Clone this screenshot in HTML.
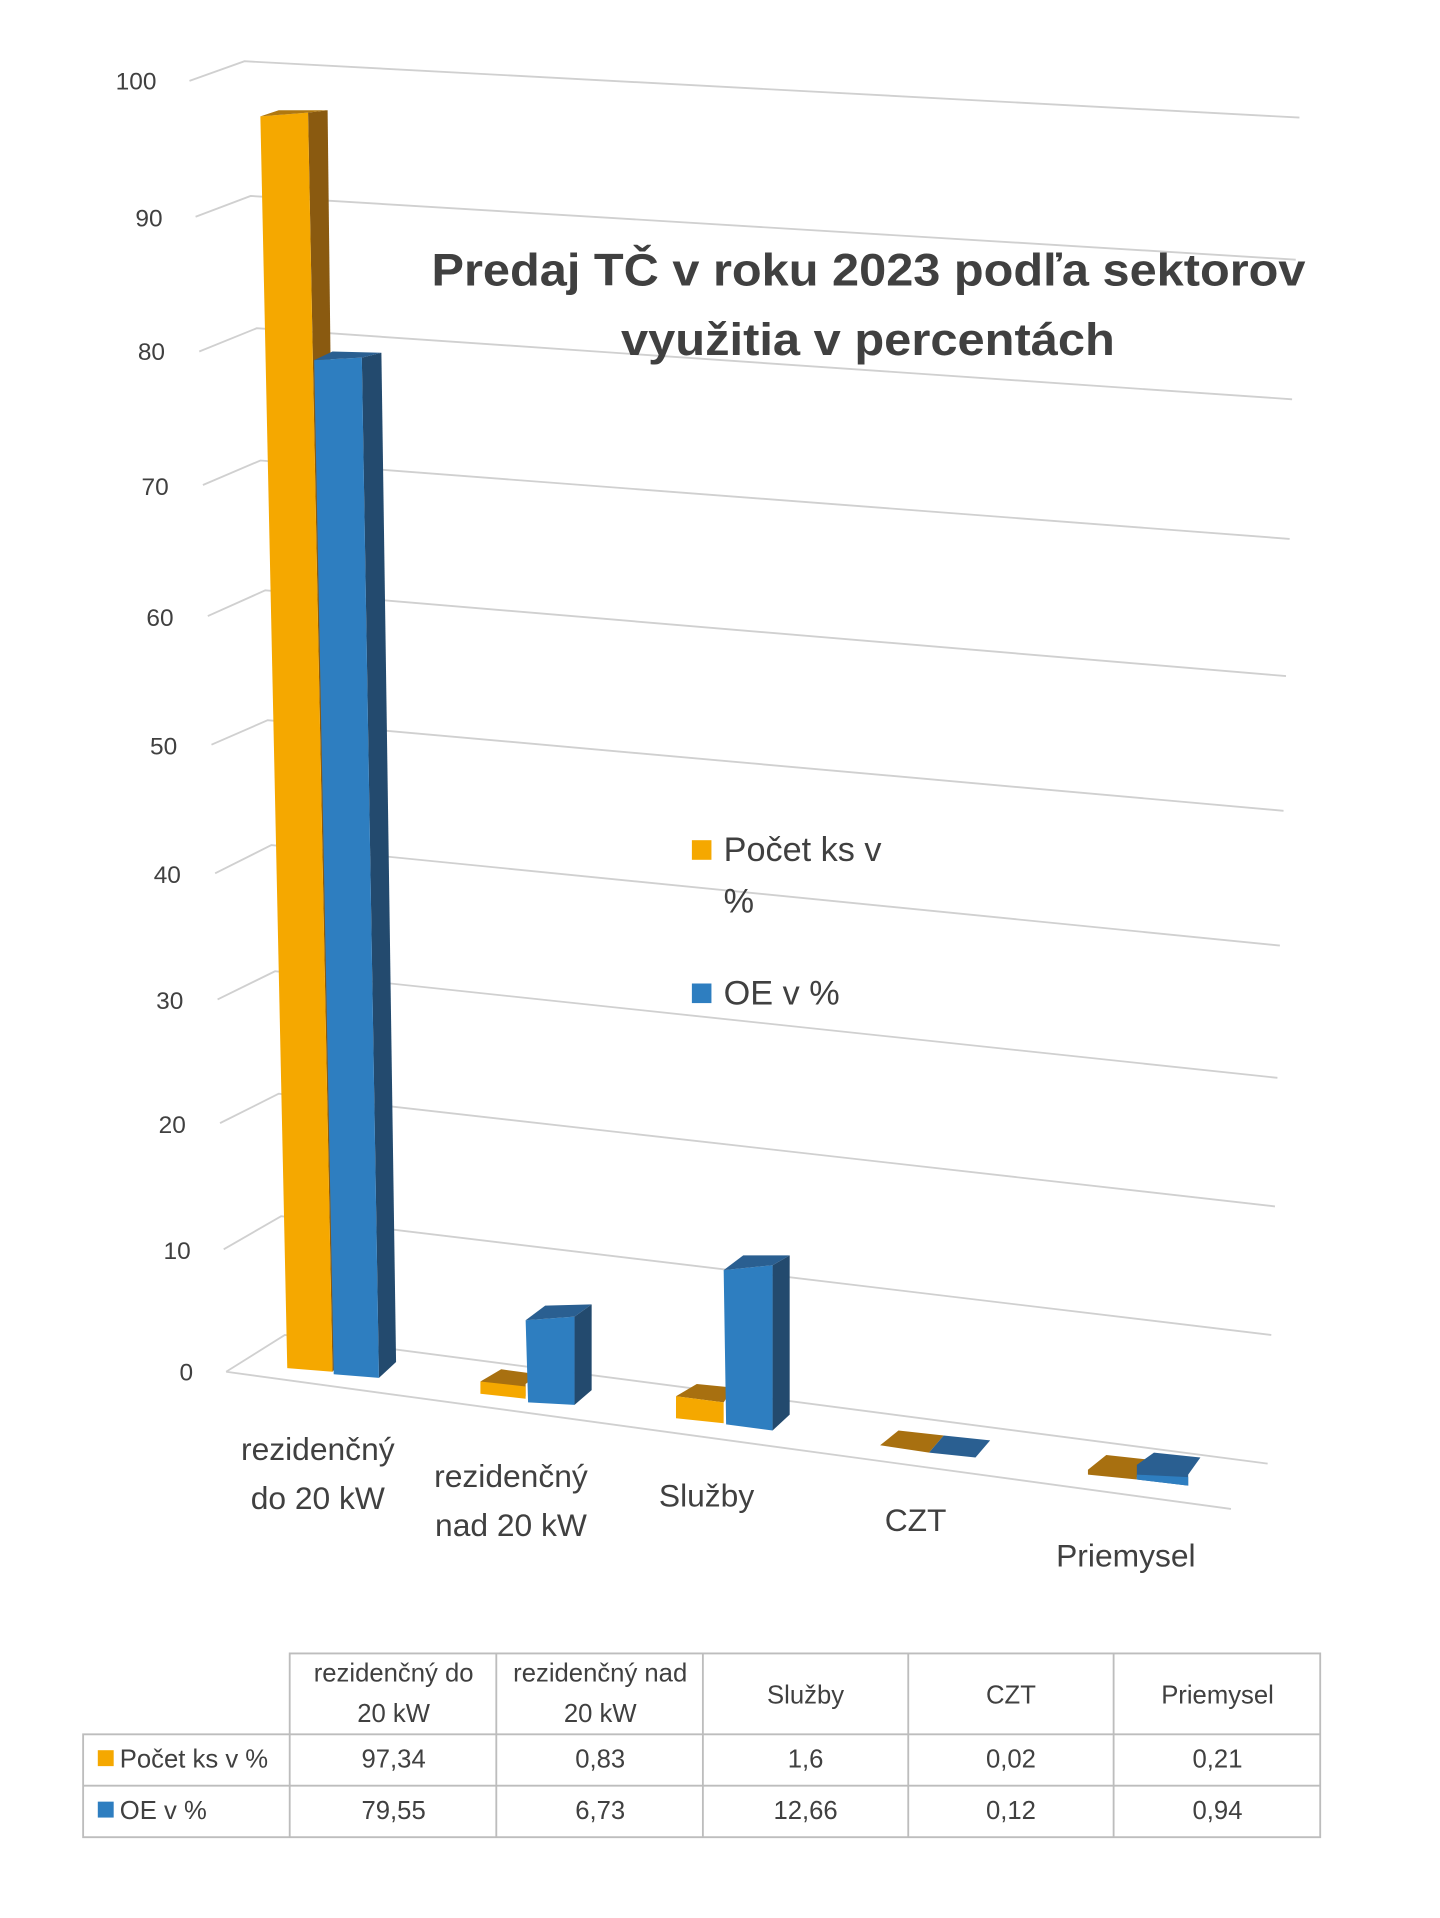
<!DOCTYPE html>
<html><head><meta charset="utf-8"><style>
html,body{margin:0;padding:0;background:#fff}
svg{display:block}
text{font-family:"Liberation Sans","DejaVu Sans",sans-serif;fill:#404040}
</style></head><body>
<svg width="1440" height="1918" viewBox="0 0 1178 1566" preserveAspectRatio="none">
<g stroke="#d0d0d0" stroke-width="1.5" fill="none">
<polyline points="155,66 200,50 1063,96"/>
<polyline points="160,177 205,160 1060,212"/>
<polyline points="163,287 210,268 1057,326"/>
<polyline points="166,396 213,376 1055,440"/>
<polyline points="170,503 217,482 1052,552"/>
<polyline points="173,608 219,588 1050,662"/>
<polyline points="176,713 222,690 1047,772"/>
<polyline points="178,816 225,793 1045,880"/>
<polyline points="180,917 228,893 1043,985"/>
<polyline points="183,1020 230,993 1040,1090"/>
<polyline points="185,1120 233,1090 1037,1195"/>
<line x1="185" y1="1120" x2="1007" y2="1232"/>
</g>
<g font-size="20" text-anchor="end">
<text x="128" y="73">100</text><text x="133" y="185">90</text><text x="135" y="294">80</text>
<text x="138" y="404">70</text><text x="142" y="511">60</text><text x="145" y="616">50</text>
<text x="148" y="721">40</text><text x="150" y="824">30</text><text x="152" y="925">20</text>
<text x="156" y="1028">10</text><text x="158" y="1127">0</text>
</g>
<!-- bar 1 -->
<polygon points="252,92 268,90 280,1110 272,1120" fill="#8a5a10"/>
<polygon points="213,95 252,92 272,1120 235,1117" fill="#f5a800"/>
<polygon points="213,95 228,90 268,90 252,92" fill="#b07810"/>
<polygon points="296,292 312,288 324,1112 310,1125" fill="#234a6e"/>
<polygon points="257,294 296,292 310,1125 273,1122" fill="#2e7ec0"/>
<polygon points="257,294 272,287 312,288 296,292" fill="#2a5f91"/>
<!-- bar 2 -->
<polygon points="393,1128 410,1118 440,1122 430,1130 430,1140" fill="#a87010"/>
<polygon points="393,1128 430,1132 430,1142 393,1138" fill="#f5a800"/>
<polygon points="470,1075 484,1065 484,1135 470,1147" fill="#234a6e"/>
<polygon points="430,1078 470,1075 470,1147 432,1145" fill="#2e7ec0"/>
<polygon points="430,1078 446,1066 484,1065 470,1075" fill="#2a5f91"/>
<!-- bar 3 -->
<polygon points="553,1140 570,1130 600,1133 592,1145" fill="#a87010"/>
<polygon points="553,1140 592,1145 592,1162 553,1158" fill="#f5a800"/>
<polygon points="632,1033 646,1025 646,1155 632,1168" fill="#234a6e"/>
<polygon points="592,1037 632,1033 632,1168 594,1163" fill="#2e7ec0"/>
<polygon points="592,1037 608,1025 646,1025 632,1033" fill="#2a5f91"/>
<!-- CZT -->
<polygon points="720,1180 735,1168 772,1172 760,1186" fill="#a87010"/>
<polygon points="760,1186 772,1172 810,1176 798,1190" fill="#2a5f91"/>
<!-- Priemysel -->
<polygon points="890,1200 905,1188 942,1192 930,1206 930,1208 890,1204" fill="#a87010"/>
<polygon points="930,1196 944,1186 982,1190 972,1204 972,1213 930,1208" fill="#2a5f91"/>
<polygon points="930,1204 972,1206 972,1213 930,1208" fill="#2e7ec0"/>
<!-- title -->
<g font-size="37" font-weight="bold" fill="#404040">
<text x="353" y="233" textLength="715" lengthAdjust="spacingAndGlyphs">Predaj  TČ v roku 2023 podľa  sektorov</text>
<text x="508" y="290" textLength="404" lengthAdjust="spacingAndGlyphs">využitia  v percentách</text>
</g>
<!-- legend -->
<rect x="566" y="686" width="16" height="16" fill="#f5a800"/>
<rect x="566" y="803" width="16" height="16" fill="#2e7ec0"/>
<g font-size="28"><text x="592" y="703">Počet ks v</text><text x="592" y="745">%</text><text x="592" y="820">OE  v %</text></g>
<!-- categories -->
<g font-size="26" text-anchor="middle">
<text x="260" y="1192">rezidenčný</text><text x="260" y="1232">do 20 kW</text>
<text x="418" y="1214">rezidenčný</text><text x="418" y="1254">nad 20 kW</text>
<text x="578" y="1230">Služby</text><text x="749" y="1250">CZT</text><text x="921" y="1279">Priemysel</text>
</g>
<!-- table -->
<g stroke="#bdbdbd" stroke-width="1.5" fill="none">
<polyline points="237,1416 237,1350 1080,1350 1080,1500 68,1500 68,1416 1080,1416"/>
<line x1="68" y1="1458" x2="1080" y2="1458"/>
<line x1="406" y1="1350" x2="406" y2="1500"/><line x1="575" y1="1350" x2="575" y2="1500"/>
<line x1="743" y1="1350" x2="743" y2="1500"/><line x1="911" y1="1350" x2="911" y2="1500"/>
<line x1="237" y1="1416" x2="237" y2="1500"/>
</g>
<g font-size="21" text-anchor="middle">
<text x="322" y="1373">rezidenčný do</text><text x="322" y="1406">20 kW</text>
<text x="491" y="1373">rezidenčný nad</text><text x="491" y="1406">20 kW</text>
<text x="659" y="1391">Služby</text><text x="827" y="1391">CZT</text><text x="996" y="1391">Priemysel</text>
<text x="322" y="1443">97,34</text><text x="491" y="1443">0,83</text><text x="659" y="1443">1,6</text><text x="827" y="1443">0,02</text><text x="996" y="1443">0,21</text>
<text x="322" y="1485">79,55</text><text x="491" y="1485">6,73</text><text x="659" y="1485">12,66</text><text x="827" y="1485">0,12</text><text x="996" y="1485">0,94</text>
</g>
<rect x="80" y="1429" width="13" height="13" fill="#f5a800"/>
<rect x="80" y="1471" width="13" height="13" fill="#2e7ec0"/>
<g font-size="21"><text x="98" y="1443">Počet ks v %</text><text x="98" y="1485">OE  v %</text></g>
</svg>
</body></html>
